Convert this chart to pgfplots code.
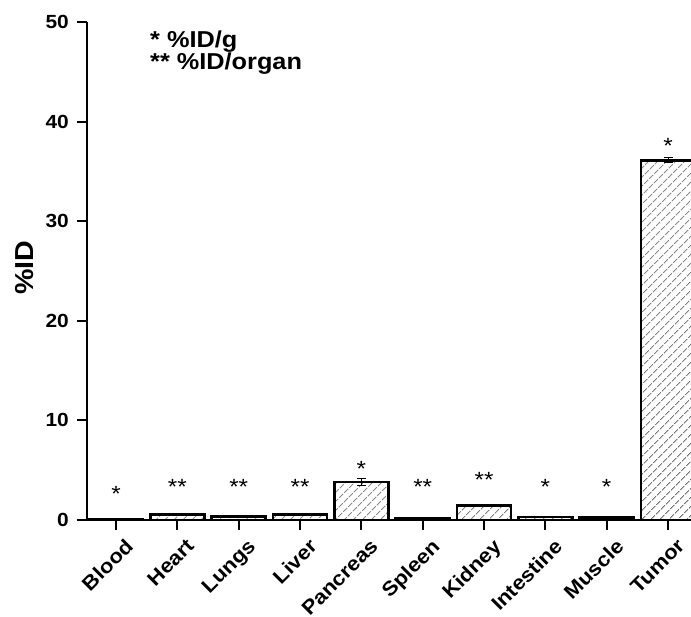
\documentclass[border=0pt]{standalone}
\usepackage{pgfplots}
\pgfplotsset{compat=1.18}
\usepackage{pgfplotstable}
\usepackage{fontspec}
\setmainfont[FakeStretch=1.1]{Liberation Sans}
\usetikzlibrary{patterns.meta}

\pgfplotstableread{
x y e
0 0.05 0
1 0.55 0
2 0.35 0
3 0.55 0
4 3.82 0.35
5 0.22 0
6 1.45 0
7 0.30 0
8 0.25 0
9 36.1 0.25
}\bars

\pgfplotstableread{
x y lab
0 1.9 *
1 2.6 **
2 2.6 **
3 2.6 **
4 4.4 *
5 2.6 **
6 3.3 **
7 2.6 *
8 2.6 *
9 36.8 *
}\stars

\begin{document}
\begin{tikzpicture}[x=1pt,y=1pt]
\path[use as bounding box] (0,0) rectangle (691,617);
\begin{axis}[
  at={(87pt,97pt)}, anchor=south west,
  scale only axis, width=604pt, height=498pt,
  xmin=-0.473, xmax=9.375, ymin=0, ymax=50,
  axis lines=left,
  axis line style={-, line width=2.6pt, black},
  ytick={0,10,...,50},
  xtick={0,...,9},
  xticklabels={Blood,Heart,Lungs,Liver,Pancreas,Spleen,Kidney,Intestine,Muscle,Tumor},
  tick align=outside,
  major tick length=10pt,
  tick style={black, line width=2pt},
  /pgf/number format/assume math mode=true,
  yticklabel style={font=\fontsize{19}{22}\selectfont\bfseries, inner sep=0pt, xshift=-8pt},
  xticklabel style={font=\fontsize{20}{22}\selectfont\bfseries, xshift=8pt, yshift=-6pt, rotate=45, anchor=north east, inner sep=1pt},
  ylabel={\%ID},
  every axis y label/.style={at={(axis description cs:-0.104,0.507)}, rotate=90, anchor=center, font=\fontsize{26}{28}\selectfont\bfseries},
  bar width=54pt,
]
\addplot[ybar, draw=black, line width=2.6pt,
  pattern={Lines[angle=45,distance=6.5pt,line width=0.75pt]}, pattern color=black!85,
  error bars/.cd, y dir=both, y explicit,
  error bar style={line width=1pt, black},
  error mark options={rotate=90, mark size=4.5pt, line width=1pt, black}]
  table[x=x, y=y, y error=e] {\bars};
\addplot[only marks, mark=none,
  nodes near coords, point meta=explicit symbolic,
  nodes near coords style={anchor=base, inner sep=0pt, font=\fontsize{22}{24}\selectfont}]
  table[x=x, y=y, meta=lab] {\stars};
\end{axis}
\node[anchor=base west, inner sep=0pt, font=\fontsize{23}{24}\selectfont\bfseries] at (150,569) {* \%ID/g};
\node[anchor=base west, inner sep=0pt, font=\fontsize{23}{24}\selectfont\bfseries] at (150,547) {** \%ID/organ};
\end{tikzpicture}
\end{document}
